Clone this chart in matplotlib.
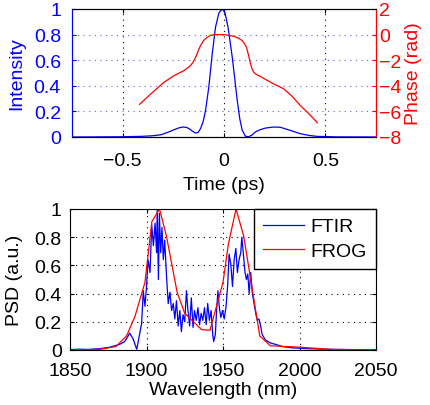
import numpy as np
import matplotlib
matplotlib.use('Agg')
import matplotlib.pyplot as plt
from matplotlib.ticker import FuncFormatter

# --- top panel: retrieved pulse (time domain) ---
t_int = [-0.75, -0.6, -0.5, -0.408, -0.35, -0.31, -0.28, -0.246, -0.225, -0.205,
         -0.185, -0.172, -0.155, -0.14, -0.128, -0.116, -0.103, -0.091, -0.075,
         -0.058, -0.042, -0.025, -0.008, 0.005, 0.02, 0.041, 0.065, 0.078, 0.09,
         0.106, 0.123, 0.138, 0.155, 0.18, 0.205, 0.245, 0.278, 0.33, 0.376,
         0.42, 0.458, 0.55, 0.75]
intensity = [0.0, 0.001, 0.002, 0.005, 0.01, 0.018, 0.035, 0.057, 0.07, 0.078,
             0.075, 0.065, 0.045, 0.031, 0.035, 0.065, 0.12, 0.208, 0.39,
             0.65, 0.857, 0.97, 1.0, 0.97, 0.857, 0.62, 0.29, 0.14, 0.052,
             0.005, 0.003, 0.015, 0.04, 0.058, 0.07, 0.078, 0.076, 0.05, 0.026,
             0.012, 0.005, 0.001, 0.0]

t_phase = [-0.417, -0.36, -0.33, -0.295, -0.246, -0.197, -0.165, -0.152, -0.14,
           -0.128, -0.116, -0.1, -0.083, -0.066, -0.05, 0.0, 0.049, 0.07, 0.09,
           0.1, 0.111, 0.121, 0.131, 0.139, 0.147, 0.16, 0.18, 0.21, 0.245,
           0.294, 0.335, 0.376, 0.42, 0.461]
phase = [-5.45, -4.62, -4.2, -3.71, -3.2, -2.81, -2.42, -2.15, -1.77,
         -1.3, -0.86, -0.45, -0.21, -0.06, 0.0, 0.0, -0.13, -0.27, -0.47,
         -0.68, -0.99, -1.6, -2.29, -2.7, -2.94, -3.12, -3.27, -3.55, -3.85,
         -4.23, -4.8, -5.53, -6.2, -6.89]

# --- bottom panel: spectra ---
wl_ftir = [1850, 1856, 1862, 1869.6, 1876, 1882.5, 1885.8, 1888, 1889, 1891.2,
           1893.6, 1894.6, 1896.8, 1897.9, 1899, 1900, 1901, 1902.3, 1903.4,
           1904.5, 1905.6, 1906.6, 1907, 1907.8, 1908.4, 1909.3, 1910.1, 1911,
           1911.9, 1913.2, 1914.2, 1915.3, 1916.4, 1917.5, 1918.5, 1919.6,
           1920.7, 1921.8, 1922.8, 1923.9, 1925, 1926.1, 1927.1, 1928.2, 1929.3,
           1930.4, 1931.4, 1932.5, 1933.6, 1934.7, 1935.7, 1936.8, 1937.9, 1939,
           1940, 1941.1, 1942.2, 1943.3, 1943.9, 1945, 1945.8, 1946.7, 1947.6,
           1948.6, 1949.7, 1950.8, 1951.9, 1953, 1954, 1955.1, 1956.2, 1957.3,
           1958.4, 1959.4, 1960.5, 1961.6, 1962.3, 1963.4, 1964.4, 1965.3,
           1966.2, 1967.1, 1968.1, 1969.2, 1970.3, 1971.4, 1972.4, 1973.5,
           1974.6, 1975.6, 1977.8, 1981, 1984.3, 1988.7, 1995.2, 2004, 2021, 2050]
psd_ftir = [0.003, 0.006, 0.004, 0.01, 0.02, 0.04, 0.06, 0.10, 0.12, 0.08,
            0.005, 0.06, 0.19, 0.42, 0.31, 0.45, 0.64, 0.55, 0.89,
            0.74, 0.90, 0.69, 1.0, 0.50, 0.97, 0.69, 0.87, 0.64,
            0.78, 0.50, 0.33, 0.41, 0.28, 0.33, 0.22, 0.35,
            0.17, 0.28, 0.13, 0.25, 0.20, 0.42, 0.28, 0.17, 0.37,
            0.16, 0.28, 0.21, 0.30, 0.18, 0.26, 0.21, 0.30, 0.18,
            0.33, 0.21, 0.28, 0.11, 0.06, 0.11, 0.28, 0.42, 0.30,
            0.23, 0.28, 0.22, 0.30, 0.45, 0.68, 0.61, 0.45, 0.64,
            0.72, 0.55, 0.64, 0.69, 0.80, 0.67, 0.55, 0.50,
            0.54, 0.40, 0.55, 0.40, 0.33, 0.26, 0.21, 0.22,
            0.17, 0.11, 0.07, 0.05, 0.04, 0.025, 0.015, 0.01, 0.004, 0.002]

wl_frog = [1850, 1870, 1880, 1887, 1892.5, 1899, 1903.5, 1908.5, 1913, 1920,
           1925, 1936, 1941.5, 1950, 1953.5, 1958.5, 1963.5, 1969, 1974, 1981,
           2000, 2020, 2050]
psd_frog = [0.0, 0.005, 0.025, 0.10, 0.24, 0.48, 0.91, 1.0, 0.81, 0.41,
            0.26, 0.145, 0.14, 0.48, 0.75, 1.0, 0.81, 0.44, 0.10, 0.03,
            0.02, 0.005, 0.0]

plt.rcParams['font.family'] = ['Liberation Sans', 'DejaVu Sans']
plt.rcParams['font.size'] = 14
plt.rcParams['axes.unicode_minus'] = True


def fmt(v, pos):
    return ('%g' % v).replace('-', '\u2212')


fig = plt.figure(figsize=(4.31, 4.06), dpi=100)

# top panel
ax1 = fig.add_axes([72 / 431, 1 - 138 / 406, 304 / 431, 128 / 406])
ax1.plot(t_int, intensity, color='blue', lw=0.9)
ax1.set_xlim(-0.75, 0.75)
ax1.set_ylim(0, 1)
ax1.set_xticks([-0.5, 0, 0.5])
ax1.set_yticks([0, 0.2, 0.4, 0.6, 0.8, 1])
ax1.xaxis.set_major_formatter(FuncFormatter(fmt))
ax1.yaxis.set_major_formatter(FuncFormatter(fmt))
ax1.tick_params(direction='in', length=3)
ax1.tick_params(axis='y', colors='blue', pad=8)
ax1.tick_params(axis='x', top=True, pad=11)
ax1.spines['left'].set_color('blue')
ax1.set_ylabel('Intensity', color='blue', labelpad=6)
ax1.set_xlabel('Time (ps)', labelpad=5)
ax1.xaxis.grid(True, linestyle=(0, (1, 4)), color='black', lw=0.8)
ax1.yaxis.grid(True, linestyle=(0, (1, 4)), color='#6060ff', lw=0.8)

ax2 = ax1.twinx()
ax2.plot(t_phase, phase, color='red', lw=0.9)
ax2.set_ylim(-8, 2)
ax2.set_yticks([-8, -6, -4, -2, 0, 2])
ax2.yaxis.set_major_formatter(FuncFormatter(fmt))
ax2.tick_params(direction='in', length=3, pad=2, colors='red')
ax2.spines['right'].set_color('red')
ax2.spines['left'].set_color('blue')
ax2.set_ylabel('Phase (rad)', color='red', labelpad=3)

# bottom panel
ax3 = fig.add_axes([70 / 431, 1 - 351 / 406, 306 / 431, 141 / 406])
ax3.plot(wl_ftir, psd_ftir, color='blue', lw=0.9, label='FTIR')
ax3.plot(wl_frog, psd_frog, color='red', lw=0.9, label='FROG')
ax3.set_xlim(1850, 2050)
ax3.set_ylim(0, 1)
ax3.set_xticks([1850, 1900, 1950, 2000, 2050])
ax3.set_yticks([0, 0.2, 0.4, 0.6, 0.8, 1])
ax3.xaxis.set_major_formatter(FuncFormatter(fmt))
ax3.yaxis.set_major_formatter(FuncFormatter(fmt))
ax3.tick_params(direction='in', length=3, top=True, right=True)
ax3.tick_params(axis='x', pad=9)
ax3.tick_params(axis='y', pad=6)
ax3.grid(True, linestyle=(0, (1, 4)), color='black', lw=0.8)
ax3.set_xlabel('Wavelength (nm)', labelpad=1)
ax3.set_ylabel('PSD (a.u.)', labelpad=8)
leg = ax3.legend(loc='upper right', fancybox=False, framealpha=1,
                 edgecolor='black', borderaxespad=0, handlelength=2.1,
                 handletextpad=0.35, borderpad=0.45, labelspacing=0.35)
leg.get_frame().set_linewidth(1.0)

fig.savefig('out.png', dpi=100)
